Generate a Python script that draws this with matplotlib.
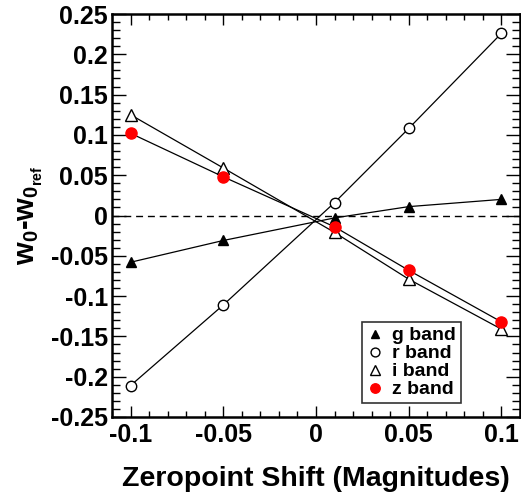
import matplotlib
matplotlib.use("Agg")
import matplotlib.pyplot as plt
from matplotlib.ticker import MultipleLocator

plt.rcParams['font.family'] = ['Liberation Sans', 'DejaVu Sans']
plt.rcParams['font.weight'] = 'bold'
plt.rcParams['mathtext.fontset'] = 'custom'
plt.rcParams['mathtext.bf'] = 'Liberation Sans:weight=bold'
plt.rcParams['mathtext.rm'] = 'Liberation Sans:weight=bold'
plt.rcParams['mathtext.it'] = 'Liberation Sans:weight=bold'
plt.rcParams['mathtext.default'] = 'bf'

shifts = [-0.1, -0.05, 0.01, 0.05, 0.1]
g_band = [-0.058, -0.031, -0.003, 0.011, 0.020]
r_band = [-0.211, -0.111, 0.016, 0.108, 0.226]
i_band = [0.125, 0.059, -0.021, -0.079, -0.141]
z_band = [0.102, 0.048, -0.014, -0.068, -0.132]
labels = ['g band', 'r band', 'i band', 'z band']

fig = plt.figure(figsize=(5.21, 5.0), dpi=100)
ax = fig.add_axes([0.215, 0.166, 0.783, 0.806])

ax.axhline(0, color='black', lw=1, ls=(0, (5, 3.5)))
ax.plot(shifts, g_band, color='black', lw=0.9, marker='^', ms=7.5,
        mfc='black', mec='black', label=labels[0])
ax.plot(shifts, r_band, color='black', lw=0.9, marker='o', ms=7.5,
        mfc='white', mec='black', mew=1, label=labels[1])
ax.plot(shifts, i_band, color='black', lw=0.9, marker='^', ms=8,
        mfc='white', mec='black', mew=1, label=labels[2])
ax.plot(shifts, z_band, color='black', lw=0.9, marker='o', ms=8,
        mfc='red', mec='red', label=labels[3], zorder=3)

ax.set_xlim(-0.11, 0.11)
ax.set_ylim(-0.25, 0.25)
ax.xaxis.set_minor_locator(MultipleLocator(0.01))
ax.yaxis.set_minor_locator(MultipleLocator(0.01))
ax.set_xticks([-0.1, -0.05, 0, 0.05, 0.1])
ax.set_xticklabels(['-0.1', '-0.05', '0', '0.05', '0.1'])
yt = [-0.25, -0.2, -0.15, -0.1, -0.05, 0, 0.05, 0.1, 0.15, 0.2, 0.25]
ax.set_yticks(yt)
ax.set_yticklabels(['-0.25', '-0.2', '-0.15', '-0.1', '-0.05', '0',
                    '0.05', '0.1', '0.15', '0.2', '0.25'])

ax.tick_params(axis='both', which='both', direction='in', top=True, right=True,
               labelsize=18, width=1)
ax.tick_params(axis='y', which='major', length=10, pad=3)
ax.tick_params(axis='y', which='minor', length=6)
ax.tick_params(axis='x', which='major', length=8, pad=4)
ax.tick_params(axis='x', which='minor', length=4)
for s in ax.spines.values():
    s.set_linewidth(1.8)

ax.set_xlabel('Zeropoint Shift (Magnitudes)', fontsize=20.5, fontweight='bold',
              labelpad=14)
ax.set_ylabel(r'$\mathbf{w_0}$-$\mathbf{w_{0_{ref}}}$', fontsize=21,
              fontweight='bold', labelpad=4)

leg = ax.legend(loc='upper left', bbox_to_anchor=(0.613, 0.236),
                frameon=True, fancybox=False, edgecolor='black',
                prop={'size': 14, 'weight': 'bold'}, handlelength=0.8,
                handletextpad=0.5, borderpad=0.25, labelspacing=0.02,
                borderaxespad=0, markerscale=0.85)
leg.get_frame().set_linewidth(1.2)
for h in leg.legend_handles:
    h.set_linestyle('None')

fig.savefig('out.png', dpi=100)
